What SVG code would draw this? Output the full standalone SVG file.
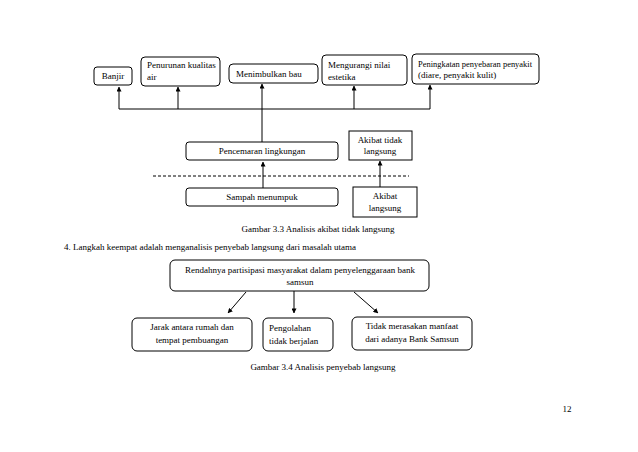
<svg xmlns="http://www.w3.org/2000/svg" width="638" height="452" viewBox="0 0 638 452">
<style>
text{font-family:"Liberation Serif","Times New Roman",serif;font-size:9px;fill:#000}
.c{text-anchor:middle}
.b{fill:#fff;stroke:#000;stroke-width:1}
.l{fill:none;stroke:#000;stroke-width:1}
</style>
<defs>
<marker id="ah" viewBox="0 0 6 6" refX="5.5" refY="3" markerWidth="5" markerHeight="5" orient="auto" markerUnits="userSpaceOnUse">
<path d="M0,0 L6,3 L0,6 Z" fill="#000"/>
</marker>
</defs>
<rect width="638" height="452" fill="#fff"/>
<g id="connectors">
<polyline class="l" points="119,109 430,109"/>
<line class="l" x1="119" y1="109" x2="119" y2="87" marker-end="url(#ah)"/>
<line class="l" x1="178" y1="109" x2="178" y2="87" marker-end="url(#ah)"/>
<line class="l" x1="262" y1="109" x2="262" y2="84" marker-end="url(#ah)"/>
<line class="l" x1="354" y1="109" x2="354" y2="86" marker-end="url(#ah)"/>
<line class="l" x1="430" y1="109" x2="430" y2="85" marker-end="url(#ah)"/>
<line class="l" x1="262" y1="142" x2="262" y2="109"/>
<line class="l" x1="153" y1="176" x2="409" y2="176" stroke-dasharray="3,2"/>
<line class="l" x1="263" y1="188" x2="263" y2="162" marker-end="url(#ah)"/>
<line class="l" x1="380" y1="187" x2="380" y2="161" marker-end="url(#ah)"/>
<line class="l" x1="246" y1="292" x2="228" y2="313" marker-end="url(#ah)"/>
<line class="l" x1="294" y1="291" x2="294" y2="313" marker-end="url(#ah)"/>
<line class="l" x1="354" y1="292" x2="378" y2="313" marker-end="url(#ah)"/>
</g>
<g id="banjir"><rect class="b" x="94" y="67" width="38" height="18" rx="3"/><text x="113" y="79" class="c">Banjir</text></g>
<g id="penurunan"><rect class="b" x="141" y="57" width="79" height="29" rx="4"/><text x="147" y="68">Penurunan kualitas</text><text x="147" y="80">air</text></g>
<g id="menimbulkan"><rect class="b" x="229" y="64" width="89" height="19" rx="4"/><text x="236" y="77">Menimbulkan bau</text></g>
<g id="mengurangi"><rect class="b" x="322" y="55" width="85" height="30" rx="4"/><text x="328" y="68">Mengurangi nilai</text><text x="328" y="80">estetika</text></g>
<g id="peningkatan"><rect class="b" x="412" y="54" width="127" height="30" rx="4"/><text x="418" y="67" textLength="114" lengthAdjust="spacingAndGlyphs">Peningkatan penyebaran penyakit</text><text x="418" y="78">(diare, penyakit kulit)</text></g>
<g id="pencemaran"><rect class="b" x="186" y="142" width="152" height="18" rx="3"/><text x="262" y="154" class="c">Pencemaran lingkungan</text></g>
<g id="akibat-tidak-langsung"><rect class="b" x="349" y="131" width="63" height="29"/><text x="380" y="143" class="c">Akibat tidak</text><text x="380" y="154" class="c">langsung</text></g>
<g id="sampah"><rect class="b" x="186" y="188" width="152" height="18" rx="3"/><text x="262" y="200" class="c">Sampah menumpuk</text></g>
<g id="akibat-langsung"><rect class="b" x="353" y="187" width="64" height="30"/><text x="385" y="199" class="c">Akibat</text><text x="385" y="211" class="c">langsung</text></g>
<text x="318" y="232" class="c">Gambar 3.3 Analisis akibat tidak langsung</text>
<text x="64" y="250">4. Langkah keempat adalah menganalisis penyebab langsung dari masalah utama</text>
<g id="rendahnya"><rect class="b" x="170" y="260" width="259" height="31" rx="5"/><text x="300" y="273" class="c">Rendahnya partisipasi masyarakat dalam penyelenggaraan bank</text><text x="300" y="285" class="c">samsun</text></g>
<g id="jarak"><rect class="b" x="132" y="318" width="120" height="33" rx="5"/><text x="192" y="330" class="c">Jarak antara rumah dan</text><text x="192" y="343" class="c">tempat pembuangan</text></g>
<g id="pengolahan"><rect class="b" x="263" y="318" width="70" height="33" rx="5"/><text x="269" y="331">Pengolahan</text><text x="269" y="344">tidak berjalan</text></g>
<g id="tidak-merasakan"><rect class="b" x="352" y="317" width="120" height="33" rx="5"/><text x="412" y="329" class="c">Tidak merasakan manfaat</text><text x="412" y="342" class="c">dari adanya Bank Samsun</text></g>
<text x="323" y="370" class="c">Gambar 3.4 Analisis penyebab langsung</text>
<text x="567" y="412" class="c">12</text>
</svg>
